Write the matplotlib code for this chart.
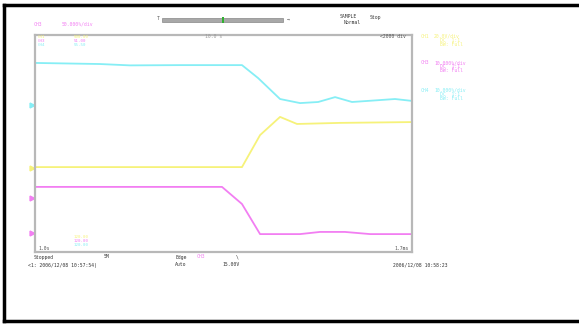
import matplotlib
matplotlib.use("Agg")
import matplotlib.pyplot as plt
from matplotlib.lines import Line2D
from matplotlib.patches import Rectangle

# ---- data (time in divisions, level in divisions) ----
cyan_t = [0, 1.72, 2.52, 3.85, 5.49, 5.92, 6.50, 7.03, 7.51, 7.96, 8.41, 8.83, 9.55, 10]
cyan_v = [6.97, 6.93, 6.88, 6.89, 6.89, 6.41, 5.64, 5.49, 5.53, 5.71, 5.53, 5.57, 5.64, 5.57]
yel_t = [0, 5.49, 5.97, 6.50, 6.95, 8.09, 10]
yel_v = [3.13, 3.13, 4.31, 4.98, 4.72, 4.76, 4.79]
mag_t = [0, 4.96, 5.49, 5.97, 7.03, 7.56, 8.22, 8.89, 10]
mag_v = [2.40, 2.40, 1.77, 0.66, 0.66, 0.74, 0.74, 0.66, 0.66]
markers_v = {"cyan": [5.42], "yellow": [3.09], "magenta": [1.99, 0.70]}

CYAN = "#86eef5"
YEL = "#f6f27a"
MAG = "#f27ef2"

W, H = 579, 324
fig = plt.figure(figsize=(W / 100, H / 100), dpi=100)
fig.patch.set_facecolor("white")

def fx(px):
    return px / W

def fy(py):
    return 1 - py / H

ax = fig.add_axes([fx(35), fy(252), (412 - 35) / W, (252 - 35) / H])
ax.plot(cyan_t, cyan_v, color=CYAN, lw=1.3)
ax.plot(yel_t, yel_v, color=YEL, lw=1.3)
ax.plot(mag_t, mag_v, color=MAG, lw=1.3)
ax.set_xlim(0, 10)
ax.set_ylim(0, 8)
ax.set_xticks([])
ax.set_yticks([])
for s in ax.spines.values():
    s.set_color("#b8b8b8")
    s.set_linewidth(1.6)

# ground markers on left side
for col, vals in [(CYAN, markers_v["cyan"]), (YEL, markers_v["yellow"]), (MAG, markers_v["magenta"])]:
    for v in vals:
        ax.plot([-0.08], [v], marker=">", color=col, ms=3.5, clip_on=False)

# outer black frame (left, top, bottom)
fig.add_artist(Line2D([fx(4), fx(4)], [fy(5), fy(321)], color="black", lw=2.5, transform=fig.transFigure))
fig.add_artist(Line2D([fx(4), 1], [fy(5), fy(5)], color="black", lw=2.5, transform=fig.transFigure))
fig.add_artist(Line2D([fx(4), 1], [fy(321), fy(321)], color="black", lw=2.5, transform=fig.transFigure))

# scroll bar
fig.add_artist(Rectangle((fx(162), fy(22)), (283 - 162) / W, 4 / H, transform=fig.transFigure,
                         facecolor="#a8a8a8", edgecolor="#888888", lw=0.5))
fig.add_artist(Rectangle((fx(222), fy(23)), 2 / W, 6 / H, transform=fig.transFigure,
                         facecolor="#30b030", edgecolor="none"))
fs = 3.4
mono = "DejaVu Sans Mono"

def t(px, py, s, c="#333333", ha="left", size=fs):
    fig.text(fx(px), fy(py), s, color=c, fontsize=size, ha=ha, va="center", family=mono)

t(157, 19, "T", "#555555")
t(287, 19, "→", "#555555")
t(34, 24, "CH3", MAG)
t(62, 24, "50.000%/div", MAG)
t(340, 17, "SAMPLE", "#333333")
t(370, 17, "Stop", "#333333")
t(344, 23, "Normal", "#333333")
t(205, 37, "10.0 s", "#999999")
t(380, 37, "<2000 div", "#555555")
sm = 3.0
t(38, 37, "CH1", YEL, size=sm)
t(38, 41, "CH3", MAG, size=sm)
t(38, 45, "CH4", CYAN, size=sm)
t(74, 37, "500.00", YEL, size=sm)
t(74, 41, "51.00", MAG, size=sm)
t(74, 45, "55.50", CYAN, size=sm)
t(74, 237, "120.00", YEL, size=sm)
t(74, 241, "120.00", MAG, size=sm)
t(74, 245, "120.00", CYAN, size=sm)
t(38, 249, "1.0s", "#555555")
t(394, 249, "1.7ms", "#555555")

# right-hand channel info
t(421, 36, "CH1", YEL)
t(434, 36, "20.0V/div", YEL)
t(440, 40, "DC  1:1", YEL)
t(440, 44, "BW: Full", YEL)
t(421, 63, "CH3", MAG)
t(434, 63, "10.000%/div", MAG)
t(440, 67, "DC  1:1", MAG)
t(440, 71, "BW: Full", MAG)
t(421, 90, "CH4", CYAN)
t(434, 90, "10.000%/div", CYAN)
t(440, 94, "DC  1:1", CYAN)
t(440, 98, "BW: Full", CYAN)

# bottom status lines
t(34, 257, "Stopped", "#333333")
t(104, 257, "5M", "#333333")
t(175, 257, "Edge", "#333333")
t(197, 257, "CH3", MAG)
t(236, 257, "\\", "#333333")
t(28, 265, "<1: 2006/12/08 10:57:54)", "#333333")
t(175, 265, "Auto", "#333333")
t(222, 265, "15.00V", "#333333")
t(393, 265, "2006/12/08 10:58:23", "#333333")

fig.savefig("out.png", dpi=100, facecolor="white")
